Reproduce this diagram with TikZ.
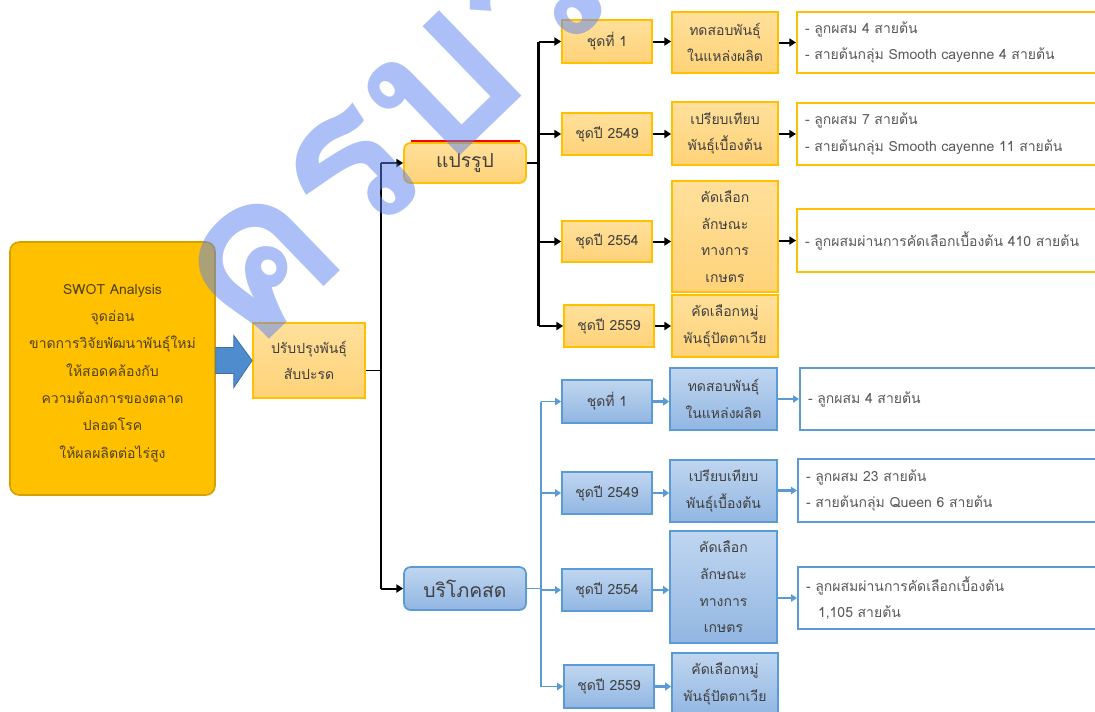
\documentclass[tikz,border=0pt]{standalone}
\usepackage{fontspec}
\newfontfamily\thai[Script=Thai]{Loma}
\usetikzlibrary{arrows.meta,calc}
\definecolor{gold}{RGB}{255,192,0}
\definecolor{goldedge}{RGB}{214,160,0}
\definecolor{ofa}{RGB}{255,224,155}
\definecolor{ofb}{RGB}{255,210,120}
\definecolor{oedge}{RGB}{255,192,0}
\definecolor{bfa}{RGB}{192,214,240}
\definecolor{bfb}{RGB}{145,182,226}
\definecolor{bedge}{RGB}{91,155,213}
\definecolor{txt}{RGB}{64,64,64}
\definecolor{txtl}{RGB}{89,89,89}
\definecolor{swtxt}{RGB}{80,66,20}
\definecolor{arrowblue}{RGB}{79,140,205}
\definecolor{wm}{RGB}{90,130,240}
\tikzset{
  t/.style={font=\thai\fontsize{10.5}{20}\selectfont, text=txt, align=center, inner sep=0pt},
  obox/.style={t, draw=oedge, line width=1.3pt, top color=ofa, bottom color=ofb},
  bbox/.style={t, draw=bedge, line width=1.3pt, top color=bfa, bottom color=bfb},
  wbox/.style={font=\thai\fontsize{10.5}{20}\selectfont, text=txtl, align=left, inner xsep=6pt, inner ysep=0pt, fill=white, line width=1.5pt},
  kline/.style={black, line width=1.5pt},
  karrow/.style={black, line width=1.5pt, -{Triangle[length=5pt,width=6pt]}},
  bline/.style={bedge, line width=1.1pt},
  barrow/.style={bedge, line width=1.1pt, -{Triangle[length=4.5pt,width=5.5pt]}},
  bbarrow/.style={bedge, line width=2.2pt, -{Triangle[length=4.5pt,width=6pt]}},
}
\begin{document}
\begin{tikzpicture}[x=0.75pt,y=-0.75pt]
\useasboundingbox (0,0) rectangle (1095,711);
\clip (0,0) rectangle (1095,711);
\fill[white] (0,0) rectangle (1095,711);

% left
\node[t, font=\thai\fontsize{10.5}{20.5}\selectfont, fill=gold, draw=goldedge, line width=1.2pt, rounded corners=7pt, text=swtxt,
  minimum width=205*0.75pt, minimum height=253*0.75pt] (swot) at (112.5,368.5)
  {\rule{0pt}{14pt}SWOT Analysis\\จุดอ่อน\\ขาดการวิจัยพัฒนาพันธุ์ใหม่\\ให้สอดคล้องกับ\\ความต้องการของตลาด\\ปลอดโรค\\ให้ผลผลิตต่อไร่สูง};
\node[obox, minimum width=112*0.75pt, minimum height=75*0.75pt] (prb) at (309,360.5) {ปรับปรุงพันธุ์\\สับปะรด};
\fill[arrowblue, draw=arrowblue!80!black, line width=0.6pt]
  ($(swot.east)+(0,-21)$) -- ++(18,0) -- ++(0,-12) -- ($(prb.west)+(0,0)$) -- ($(swot.east)+(18,19)$) -- ++(0,-14) -- ($(swot.east)+(0,5)$) -- cycle;

% branch nodes
\node[obox, rounded corners=5pt, font=\thai\fontsize{14.5}{16}\selectfont, minimum width=122*0.75pt, minimum height=40*0.75pt] (pr) at (465,163) {แปรรูป};
\draw[red, line width=1.3pt] ($(pr.north west)+(8,-1)$) -- ($(pr.north east)+(-7,-1)$);
\node[bbox, rounded corners=5pt, font=\thai\fontsize{14.5}{16}\selectfont, minimum width=122*0.75pt, minimum height=43*0.75pt] (bs) at (465,588.5) {บริโภคสด};

\coordinate (t0) at ($(prb.east)+(15,10)$);
\draw[kline, line width=1.2pt] ($(prb.east)+(0,10)$) -- (t0);
\draw[kline, line width=1.2pt] (t0 |- pr.west) -- (t0 |- bs.west);
\draw[karrow] (t0 |- pr.west) -- (pr.west);
\draw[karrow] (t0 |- bs.west) -- (bs.west);

% top column
\node[obox, minimum width=90*0.75pt, minimum height=43*0.75pt] (a1) at (607,41.5) {ชุดที่ 1};
\node[obox, minimum width=90*0.75pt, minimum height=42*0.75pt] (a2) at (607,134) {ชุดปี 2549};
\node[obox, minimum width=90*0.75pt, minimum height=41*0.75pt] (a3) at (607,241.5) {ชุดปี 2554};
\node[obox, minimum width=90*0.75pt, minimum height=42*0.75pt] (a4) at (609,326) {ชุดปี 2559};
\node[obox, minimum width=106*0.75pt, minimum height=61*0.75pt] (b1) at (725,42.5) {ทดสอบพันธุ์\\ในแหล่งผลิต};
\node[obox, minimum width=106*0.75pt, minimum height=63*0.75pt] (b2) at (725,133.5) {เปรียบเทียบ\\พันธุ์เบื้องต้น};
\node[obox, minimum width=106*0.75pt, minimum height=111*0.75pt] (b3) at (725,236.5) {คัดเลือก\\ลักษณะ\\ทางการ\\เกษตร};
\node[obox, minimum width=106*0.75pt, minimum height=62*0.75pt] (b4) at (725,326) {คัดเลือกหมู่\\พันธุ์ปัตตาเวีย};
\node[wbox, draw=oedge, text width=292*0.75pt, minimum height=61*0.75pt] (c1) at (951,42.5)
  {- ลูกผสม 4 สายต้น\\- สายต้นกลุ่ม Smooth cayenne 4 สายต้น};
\node[wbox, draw=oedge, text width=292*0.75pt, minimum height=62*0.75pt] (c2) at (951,134)
  {- ลูกผสม 7 สายต้น\\- สายต้นกลุ่ม Smooth cayenne 11 สายต้น};
\node[wbox, draw=oedge, text width=292*0.75pt, minimum height=63*0.75pt] (c3) at (951,240.5)
  {- ลูกผสมผ่านการคัดเลือกเบื้องต้น 410 สายต้น};

\coordinate (t1) at ($(pr.east)+(12,0)$);
\draw[kline] (pr.east) -- (t1);
\draw[kline, line width=2.4pt] (t1 |- a1.west) -- (t1 |- a4.west);
\foreach \n in {a1,a2,a3,a4} \draw[karrow] (t1 |- \n.west) -- (\n.west);
\foreach \p/\q in {a1/b1,a2/b2,a3/b3,a4/b4} \draw[karrow] (\p.east) -- (\p.east -| \q.west);
\foreach \p/\q in {b1/c1,b2/c2,b3/c3} \draw[karrow] (\p.east |- \q.west) -- (\q.west);

% bottom column
\node[bbox, minimum width=90*0.75pt, minimum height=43*0.75pt] (d1) at (607,401.5) {ชุดที่ 1};
\node[bbox, minimum width=90*0.75pt, minimum height=42*0.75pt] (d2) at (607,493) {ชุดปี 2549};
\node[bbox, minimum width=90*0.75pt, minimum height=42*0.75pt] (d3) at (607,590) {ชุดปี 2554};
\node[bbox, minimum width=90*0.75pt, minimum height=43*0.75pt] (d4) at (609,686.5) {ชุดปี 2559};
\node[bbox, minimum width=107*0.75pt, minimum height=62*0.75pt] (e1) at (723.5,399) {ทดสอบพันธุ์\\ในแหล่งผลิต};
\node[bbox, minimum width=107*0.75pt, minimum height=62*0.75pt] (e2) at (723.5,491) {เปรียบเทียบ\\พันธุ์เบื้องต้น};
\node[bbox, minimum width=107*0.75pt, minimum height=112*0.75pt] (e3) at (723.5,587) {คัดเลือก\\ลักษณะ\\ทางการ\\เกษตร};
\node[bbox, minimum width=106*0.75pt, minimum height=62*0.75pt] (e4) at (725,684) {คัดเลือกหมู่\\พันธุ์ปัตตาเวีย};
\node[wbox, draw=bedge, text width=289*0.75pt, minimum height=62*0.75pt] (f1) at (952.5,399)
  {- ลูกผสม 4 สายต้น};
\node[wbox, draw=bedge, text width=291*0.75pt, minimum height=63*0.75pt] (f2) at (951.5,490.5)
  {- ลูกผสม 23 สายต้น\\- สายต้นกลุ่ม Queen 6 สายต้น};
\node[wbox, draw=bedge, text width=291*0.75pt, minimum height=62*0.75pt] (f3) at (951.5,598)
  {- ลูกผสมผ่านการคัดเลือกเบื้องต้น\\\hspace*{9pt}1,105 สายต้น};

\coordinate (t2) at ($(bs.east)+(14,0)$);
\draw[bline] (bs.east) -- (t2);
\draw[bline] (t2 |- d1.west) -- (t2 |- d4.west);
\foreach \n in {d1,d2,d3,d4} \draw[barrow] (t2 |- \n.west) -- (\n.west);
\foreach \p/\q in {d1/e1,d2/e2,d3/e3,d4/e4} \draw[bbarrow] (\p.east) -- (\p.east -| \q.west);
\foreach \p/\q in {e1/f1,e2/f2,e3/f3} \draw[barrow, line width=1.6pt] (\p.east |- \q.west) -- (\q.west);

% watermark
\node[rotate=44, anchor=base west, inner sep=0pt, text=wm, opacity=0.5,
  font=\thai\bfseries\fontsize{160}{160}\selectfont] (wmk) at (250,358) {ครบวิชา};
\end{tikzpicture}
\end{document}
